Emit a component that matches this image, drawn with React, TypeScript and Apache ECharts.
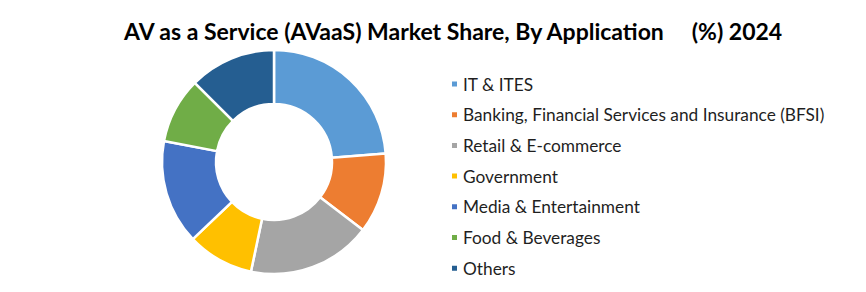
import React, { useEffect, useRef } from "react";
import * as echarts from "echarts";

const categories = [
  "IT & ITES",
  "Banking, Financial Services and Insurance (BFSI)",
  "Retail & E-commerce",
  "Government",
  "Media & Entertainment",
  "Food & Beverages",
  "Others",
];
const shares = [23.8, 11.6, 17.9, 9.6, 15.1, 9.5, 12.5];
const colors = ["#5B9BD5", "#ED7D31", "#A5A5A5", "#FFC000", "#4472C4", "#70AD47", "#255E91"];
const titleText = "AV as a Service (AVaaS) Market Share, By Application     (%) 2024";

export default function App() {
  const ref = useRef<HTMLDivElement>(null);
  useEffect(() => {
    if (!ref.current) return;
    const chart = echarts.init(ref.current, undefined, { renderer: "svg" });
    chart.setOption({
      animation: false,
      backgroundColor: "#ffffff",
      title: {
        text: titleText,
        left: 111,
        top: 6,
        textStyle: {
          fontFamily: "Lato",
          fontWeight: "bold",
          fontSize: 23,
          color: "#000000",
        },
      },
      legend: {
        orient: "vertical",
        left: 442,
        top: 66,
        height: 220,
        padding: 0,
        icon: "rect",
        itemWidth: 7,
        itemHeight: 7,
        itemGap: 10.7,
        selectedMode: false,
        data: categories,
        textStyle: {
          fontFamily: "Lato",
          fontSize: 17.3,
          lineHeight: 20,
          color: "#1f1f1f",
        },
      },
      series: [
        {
          type: "pie",
          center: [266, 154],
          radius: [58, 112],
          startAngle: 90,
          clockwise: true,
          label: { show: false },
          labelLine: { show: false },
          itemStyle: { borderColor: "#ffffff", borderWidth: 2.5 },
          emphasis: { disabled: true },
          data: categories.map((name, i) => ({
            name,
            value: shares[i],
            itemStyle: { color: colors[i] },
          })),
        },
      ],
    });
    return () => chart.dispose();
  }, []);
  return <div ref={ref} style={{ width: 850, height: 276 }} />;
}
